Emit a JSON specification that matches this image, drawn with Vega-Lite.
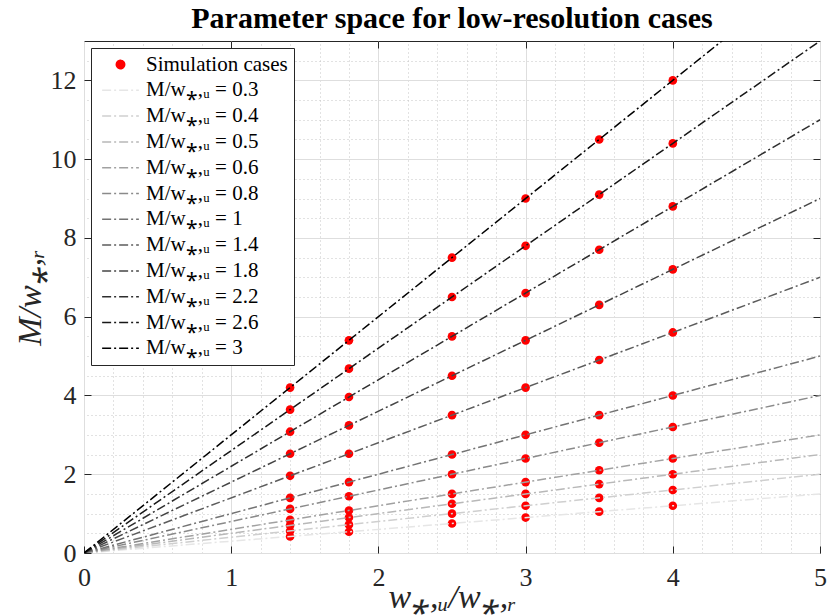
{
  "$schema": "https://vega.github.io/schema/vega-lite/v6.json",
  "width": 736,
  "height": 512,
  "autosize": {"type": "none"},
  "padding": {"left": 84, "top": 41, "right": 8, "bottom": 63},
  "title": {
    "text": "Parameter space for low-resolution cases",
    "font": "Liberation Serif",
    "fontSize": 30,
    "fontWeight": "bold",
    "color": "#000000",
    "anchor": "middle",
    "offset": 7
  },
  "datasets": {
    "pts": [
      {"s": "Simulation cases", "x": 1.4, "y": 0.42}, {"s": "Simulation cases", "x": 1.8, "y": 0.54}, {"s": "Simulation cases", "x": 2.5, "y": 0.75}, {"s": "Simulation cases", "x": 3, "y": 0.9}, {"s": "Simulation cases", "x": 3.5, "y": 1.05}, {"s": "Simulation cases", "x": 4, "y": 1.2},
      {"s": "Simulation cases", "x": 1.4, "y": 0.56}, {"s": "Simulation cases", "x": 1.8, "y": 0.72}, {"s": "Simulation cases", "x": 2.5, "y": 1.0}, {"s": "Simulation cases", "x": 3, "y": 1.2}, {"s": "Simulation cases", "x": 3.5, "y": 1.4}, {"s": "Simulation cases", "x": 4, "y": 1.6},
      {"s": "Simulation cases", "x": 1.4, "y": 0.7}, {"s": "Simulation cases", "x": 1.8, "y": 0.9}, {"s": "Simulation cases", "x": 2.5, "y": 1.25}, {"s": "Simulation cases", "x": 3, "y": 1.5}, {"s": "Simulation cases", "x": 3.5, "y": 1.75}, {"s": "Simulation cases", "x": 4, "y": 2.0},
      {"s": "Simulation cases", "x": 1.4, "y": 0.84}, {"s": "Simulation cases", "x": 1.8, "y": 1.08}, {"s": "Simulation cases", "x": 2.5, "y": 1.5}, {"s": "Simulation cases", "x": 3, "y": 1.8}, {"s": "Simulation cases", "x": 3.5, "y": 2.1}, {"s": "Simulation cases", "x": 4, "y": 2.4},
      {"s": "Simulation cases", "x": 1.4, "y": 1.12}, {"s": "Simulation cases", "x": 1.8, "y": 1.44}, {"s": "Simulation cases", "x": 2.5, "y": 2.0}, {"s": "Simulation cases", "x": 3, "y": 2.4}, {"s": "Simulation cases", "x": 3.5, "y": 2.8}, {"s": "Simulation cases", "x": 4, "y": 3.2},
      {"s": "Simulation cases", "x": 1.4, "y": 1.4}, {"s": "Simulation cases", "x": 1.8, "y": 1.8}, {"s": "Simulation cases", "x": 2.5, "y": 2.5}, {"s": "Simulation cases", "x": 3, "y": 3.0}, {"s": "Simulation cases", "x": 3.5, "y": 3.5}, {"s": "Simulation cases", "x": 4, "y": 4.0},
      {"s": "Simulation cases", "x": 1.4, "y": 1.96}, {"s": "Simulation cases", "x": 1.8, "y": 2.52}, {"s": "Simulation cases", "x": 2.5, "y": 3.5}, {"s": "Simulation cases", "x": 3, "y": 4.2}, {"s": "Simulation cases", "x": 3.5, "y": 4.9}, {"s": "Simulation cases", "x": 4, "y": 5.6},
      {"s": "Simulation cases", "x": 1.4, "y": 2.52}, {"s": "Simulation cases", "x": 1.8, "y": 3.24}, {"s": "Simulation cases", "x": 2.5, "y": 4.5}, {"s": "Simulation cases", "x": 3, "y": 5.4}, {"s": "Simulation cases", "x": 3.5, "y": 6.3}, {"s": "Simulation cases", "x": 4, "y": 7.2},
      {"s": "Simulation cases", "x": 1.4, "y": 3.08}, {"s": "Simulation cases", "x": 1.8, "y": 3.96}, {"s": "Simulation cases", "x": 2.5, "y": 5.5}, {"s": "Simulation cases", "x": 3, "y": 6.6}, {"s": "Simulation cases", "x": 3.5, "y": 7.7}, {"s": "Simulation cases", "x": 4, "y": 8.8},
      {"s": "Simulation cases", "x": 1.4, "y": 3.64}, {"s": "Simulation cases", "x": 1.8, "y": 4.68}, {"s": "Simulation cases", "x": 2.5, "y": 6.5}, {"s": "Simulation cases", "x": 3, "y": 7.8}, {"s": "Simulation cases", "x": 3.5, "y": 9.1}, {"s": "Simulation cases", "x": 4, "y": 10.4},
      {"s": "Simulation cases", "x": 1.4, "y": 4.2}, {"s": "Simulation cases", "x": 1.8, "y": 5.4}, {"s": "Simulation cases", "x": 2.5, "y": 7.5}, {"s": "Simulation cases", "x": 3, "y": 9.0}, {"s": "Simulation cases", "x": 3.5, "y": 10.5}, {"s": "Simulation cases", "x": 4, "y": 12.0}
    ],
    "lines": [
      {"s": "M/w⁎,ᵤ = 0.3", "x": 0, "y": 0}, {"s": "M/w⁎,ᵤ = 0.3", "x": 5, "y": 1.5},
      {"s": "M/w⁎,ᵤ = 0.4", "x": 0, "y": 0}, {"s": "M/w⁎,ᵤ = 0.4", "x": 5, "y": 2.0},
      {"s": "M/w⁎,ᵤ = 0.5", "x": 0, "y": 0}, {"s": "M/w⁎,ᵤ = 0.5", "x": 5, "y": 2.5},
      {"s": "M/w⁎,ᵤ = 0.6", "x": 0, "y": 0}, {"s": "M/w⁎,ᵤ = 0.6", "x": 5, "y": 3.0},
      {"s": "M/w⁎,ᵤ = 0.8", "x": 0, "y": 0}, {"s": "M/w⁎,ᵤ = 0.8", "x": 5, "y": 4.0},
      {"s": "M/w⁎,ᵤ = 1", "x": 0, "y": 0}, {"s": "M/w⁎,ᵤ = 1", "x": 5, "y": 5.0},
      {"s": "M/w⁎,ᵤ = 1.4", "x": 0, "y": 0}, {"s": "M/w⁎,ᵤ = 1.4", "x": 5, "y": 7.0},
      {"s": "M/w⁎,ᵤ = 1.8", "x": 0, "y": 0}, {"s": "M/w⁎,ᵤ = 1.8", "x": 5, "y": 9.0},
      {"s": "M/w⁎,ᵤ = 2.2", "x": 0, "y": 0}, {"s": "M/w⁎,ᵤ = 2.2", "x": 5, "y": 11.0},
      {"s": "M/w⁎,ᵤ = 2.6", "x": 0, "y": 0}, {"s": "M/w⁎,ᵤ = 2.6", "x": 5, "y": 13.0},
      {"s": "M/w⁎,ᵤ = 3", "x": 0, "y": 0}, {"s": "M/w⁎,ᵤ = 3", "x": 5, "y": 15.0}
    ]
  },
  "layer": [
    {
      "data": {"name": "pts"},
      "mark": {"type": "point", "filled": true, "size": 75, "opacity": 1, "strokeWidth": 0},
      "encoding": {
        "x": {
          "field": "x", "type": "quantitative",
          "scale": {"domain": [0, 5], "nice": false, "zero": false},
          "axis": {
            "orient": "bottom", "values": [0, 1, 2, 3, 4, 5], "format": "d",
            "grid": true, "gridColor": "#dedede", "gridWidth": 1,
            "domain": false, "ticks": true, "tickSize": -7, "tickColor": "#262626",
            "labelPadding": 18, "labelFontSize": 26, "labelFont": "Liberation Serif", "labelColor": "#262626",
            "labelFlush": false,
            "title": "w⁎,ᵤ/w⁎,ᵣ", "titleFont": "Liberation Serif", "titleFontStyle": "italic", "titleFontWeight": "normal",
            "titleFontSize": 34, "titleColor": "#262626", "titlePadding": -10
          }
        },
        "y": {
          "field": "y", "type": "quantitative",
          "scale": {"domain": [0, 13], "nice": false, "zero": false},
          "axis": {
            "orient": "left", "values": [0, 2, 4, 6, 8, 10, 12], "format": "d",
            "grid": true, "gridColor": "#dedede", "gridWidth": 1,
            "domain": false, "ticks": true, "tickSize": -7, "tickColor": "#262626",
            "labelPadding": 15, "labelFontSize": 26, "labelFont": "Liberation Serif", "labelColor": "#262626",
            "labelFlush": false,
            "title": "M/w⁎,ᵣ", "titleFont": "Liberation Serif", "titleFontStyle": "italic", "titleFontWeight": "normal",
            "titleFontSize": 34, "titleColor": "#262626", "titlePadding": 3
          }
        },
        "color": {"field": "s", "type": "nominal"}
      }
    },
    {
      "data": {"name": "lines"},
      "mark": {"type": "line", "strokeWidth": 1.5, "strokeDash": [9, 3, 2, 3], "clip": true},
      "encoding": {
        "x": {
          "field": "x", "type": "quantitative",
          "axis": {
            "orient": "top",
            "values": [0.2, 0.4, 0.6, 0.8, 1.2, 1.4, 1.6, 1.8, 2.2, 2.4, 2.6, 2.8, 3.2, 3.4, 3.6, 3.8, 4.2, 4.4, 4.6, 4.8],
            "labels": false, "ticks": false, "domain": false,
            "grid": true, "gridDash": [1, 3], "gridColor": "#c4c4c4", "gridWidth": 1,
            "title": null
          }
        },
        "y": {
          "field": "y", "type": "quantitative",
          "axis": {
            "orient": "right",
            "values": [0.5, 1, 1.5, 2.5, 3, 3.5, 4.5, 5, 5.5, 6.5, 7, 7.5, 8.5, 9, 9.5, 10.5, 11, 11.5, 12.5],
            "labels": false, "ticks": false, "domain": false,
            "grid": true, "gridDash": [1, 3], "gridColor": "#c4c4c4", "gridWidth": 1,
            "title": null
          }
        },
        "color": {
          "field": "s", "type": "nominal",
          "scale": {
            "domain": ["Simulation cases", "M/w⁎,ᵤ = 0.3", "M/w⁎,ᵤ = 0.4", "M/w⁎,ᵤ = 0.5", "M/w⁎,ᵤ = 0.6", "M/w⁎,ᵤ = 0.8", "M/w⁎,ᵤ = 1", "M/w⁎,ᵤ = 1.4", "M/w⁎,ᵤ = 1.8", "M/w⁎,ᵤ = 2.2", "M/w⁎,ᵤ = 2.6", "M/w⁎,ᵤ = 3"],
            "range": ["#ff0000", "#e6e6e6", "#cfcfcf", "#b8b8b8", "#a1a1a1", "#8a8a8a", "#737373", "#5c5c5c", "#454545", "#2e2e2e", "#171717", "#000000"]
          },
          "legend": {
            "orient": "none", "legendX": 7, "legendY": 7,
            "title": null,
            "fillColor": "#ffffff", "strokeColor": "#262626",
            "padding": 6,
            "symbolType": "M-3,0L3,0", "symbolSize": 150, "symbolOffset": 13, "symbolStrokeWidth": 1.5, "symbolOpacity": 1,
            "labelOffset": 15, "labelFont": "Liberation Serif", "labelFontSize": 21, "labelColor": "#000000",
            "labelLimit": 300, "rowPadding": 3.8,
            "encode": {
              "symbols": {
                "update": {
                  "shape": {"signal": "datum.value === 'Simulation cases' ? 'circle' : 'M-3,0L3,0'"},
                  "size": {"signal": "datum.value === 'Simulation cases' ? 70 : 150"},
                  "fill": {"signal": "datum.value === 'Simulation cases' ? '#ff0000' : 'transparent'"},
                  "stroke": {"signal": "datum.value === 'Simulation cases' ? 'transparent' : scale('color', datum.value)"},
                  "strokeDash": {"signal": "datum.value === 'Simulation cases' ? [1, 0] : [9, 3, 2, 3]"}
                }
              }
            }
          }
        }
      }
    },
    {
      "data": {"name": "pts"},
      "mark": {"type": "point", "opacity": 0},
      "encoding": {
        "x": {
          "field": "x", "type": "quantitative",
          "axis": {
            "orient": "top", "values": [1, 2, 3, 4],
            "labels": false, "grid": false, "domain": false,
            "ticks": true, "tickSize": -7, "tickColor": "#262626",
            "title": null
          }
        },
        "y": {
          "field": "y", "type": "quantitative",
          "axis": {
            "orient": "right", "values": [2, 4, 6, 8, 10, 12],
            "labels": false, "grid": false, "domain": false,
            "ticks": true, "tickSize": -7, "tickColor": "#262626",
            "title": null
          }
        }
      }
    }
  ],
  "resolve": {"axis": {"x": "independent", "y": "independent"}},
  "config": {
    "view": {"stroke": "#262626", "strokeWidth": 1},
    "font": "Liberation Serif"
  }
}
